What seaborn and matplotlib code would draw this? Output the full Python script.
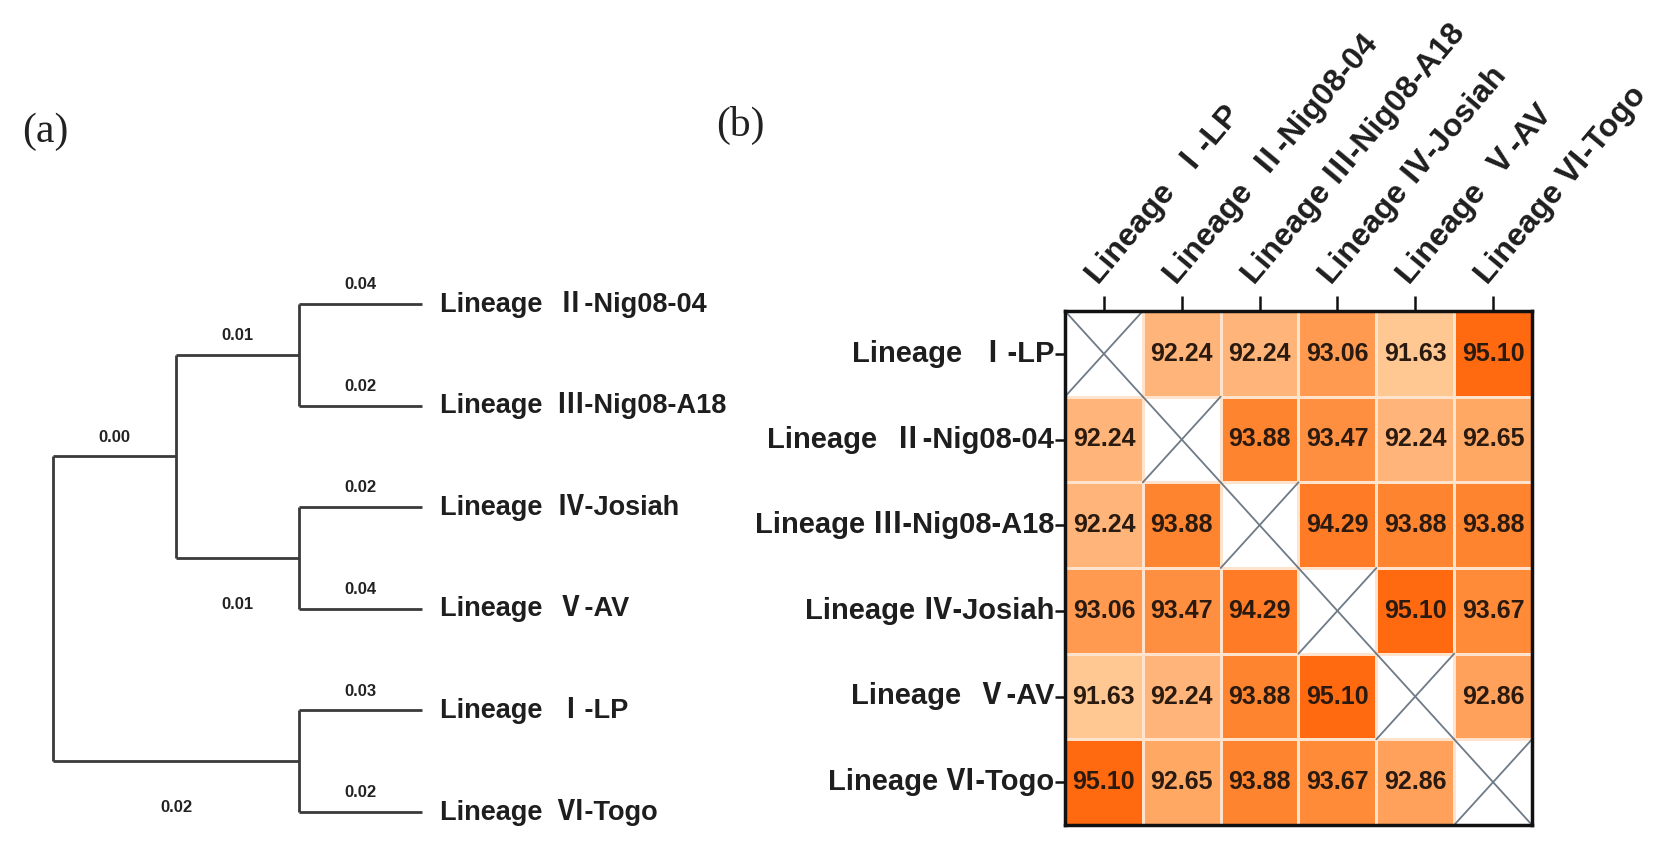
import numpy as np
import pandas as pd
import matplotlib
matplotlib.use("Agg")
import matplotlib.pyplot as plt
from matplotlib.colors import LinearSegmentedColormap
import seaborn as sns

# ---------------- data ----------------
lineages = ["Lineage  Ⅰ-LP", "Lineage  Ⅱ-Nig08-04", "Lineage Ⅲ-Nig08-A18",
            "Lineage Ⅳ-Josiah", "Lineage  Ⅴ-AV", "Lineage Ⅵ-Togo"]
row_I = [np.nan, 92.24, 92.24, 93.06, 91.63, 95.10]
row_II = [92.24, np.nan, 93.88, 93.47, 92.24, 92.65]
row_III = [92.24, 93.88, np.nan, 94.29, 93.88, 93.88]
row_IV = [93.06, 93.47, 94.29, np.nan, 95.10, 93.67]
row_V = [91.63, 92.24, 93.88, 95.10, np.nan, 92.86]
row_VI = [95.10, 92.65, 93.88, 93.67, 92.86, np.nan]

# tree: nested tuples of leaf names, branch-length labels per node
tree = ((("Lineage  Ⅱ-Nig08-04", "Lineage  Ⅲ-Nig08-A18"),
         ("Lineage  Ⅳ-Josiah", "Lineage  Ⅴ-AV")),
        ("Lineage  Ⅰ-LP", "Lineage  Ⅵ-Togo"))
branch_labels = {
    "Lineage  Ⅱ-Nig08-04": "0.04", "Lineage  Ⅲ-Nig08-A18": "0.02",
    "Lineage  Ⅳ-Josiah": "0.02", "Lineage  Ⅴ-AV": "0.04",
    "Lineage  Ⅰ-LP": "0.03", "Lineage  Ⅵ-Togo": "0.02",
    "A": "0.01", "B": "0.01", "C": "0.00", "D": "0.02",
}
node_names = {tree[0][0]: "A", tree[0][1]: "B", tree[0]: "C", tree[1]: "D"}

# ---------------- style ----------------
sns.set_theme(style="white")
plt.rcParams["font.family"] = ["Liberation Sans", "Noto Sans CJK SC", "DejaVu Sans"]
plt.rcParams["font.weight"] = "bold"

fig = plt.figure(figsize=(16.56, 8.57), dpi=100)
W, H = 1656, 857

def px_axes(x0, y0, x1, y1):
    return fig.add_axes([x0 / W, 1 - y1 / H, (x1 - x0) / W, (y1 - y0) / H])

# ---------------- (a) dendrogram ----------------
axd = px_axes(53, 304, 422, 812)
axd.set_xlim(0, 3)
axd.set_ylim(5, 0)
axd.axis("off")

leaf_order = []
def collect(n):
    if isinstance(n, str):
        leaf_order.append(n)
    else:
        for c in n:
            collect(c)
collect(tree)

def height(n):
    return 0 if isinstance(n, str) else 1 + max(height(c) for c in n)

maxh = height(tree)
line_kw = dict(color="#3a3a3a", lw=2.0, solid_capstyle="butt", clip_on=False)

def draw(n):
    """returns (x, y) of node n"""
    if isinstance(n, str):
        return maxh, leaf_order.index(n)
    x = maxh - height(n)
    pts = [draw(c) for c in n]
    ys = [p[1] for p in pts]
    axd.plot([x, x], [min(ys), max(ys)], **line_kw)
    for i, (c, (cx, cy)) in enumerate(zip(n, pts)):
        axd.plot([x, cx], [cy, cy], **line_kw)
        name = c if isinstance(c, str) else node_names[c]
        lab = branch_labels[name]
        dy = -0.19 if (isinstance(c, str) or i == 0) else 0.46
        axd.text((x + cx) / 2, cy + dy, lab, ha="center", va="center",
                 fontsize=12, fontweight="bold", color="#222222")
    return x, float(np.mean(ys))

draw(tree)
for i, name in enumerate(leaf_order):
    axd.text(maxh + 0.15, i, name, ha="left", va="center", fontsize=19.5,
             fontweight="bold", color="#1e1e1e", clip_on=False)

# ---------------- (b) heatmap ----------------
mat = pd.DataFrame([row_I, row_II, row_III, row_IV, row_V, row_VI],
                   index=lineages, columns=lineages)
mask = mat.isna()
cmap = LinearSegmentedColormap.from_list(
    "orng", [(0.0, "#FFC893"), (0.18, "#FFB578"), (0.41, "#FF9A50"),
             (0.65, "#FF8430"), (1.0, "#FF6A10")])

axh = px_axes(1065, 311, 1532, 825)
sns.heatmap(mat, ax=axh, mask=mask, cmap=cmap, vmin=91.63, vmax=95.10,
            annot=True, fmt=".2f", cbar=False, linewidths=0.8,
            linecolor="#ffe3cc",
            annot_kws=dict(fontsize=18, fontweight="bold", color="#2a1a10"))

# crosses on empty (diagonal) cells
for r in range(mat.shape[0]):
    for c in range(mat.shape[1]):
        if mask.iat[r, c]:
            axh.plot([c, c + 1], [r, r + 1], color="#6e7a86", lw=1.3)
            axh.plot([c, c + 1], [r + 1, r], color="#6e7a86", lw=1.3)

for s in axh.spines.values():
    s.set_visible(True)
    s.set_linewidth(2.5)
    s.set_color("#111111")

axh.xaxis.tick_top()
axh.set_xticks(np.arange(len(lineages)) + 0.5)
axh.set_xticklabels(lineages, rotation=50, ha="left", va="bottom",
                    rotation_mode="anchor", fontsize=23, fontweight="bold",
                    color="#1e1e1e")
axh.set_yticks(np.arange(len(lineages)) + 0.5)
axh.set_yticklabels(lineages, rotation=0, fontsize=21, fontweight="bold",
                    color="#1e1e1e")
axh.tick_params(axis="x", top=True, bottom=False, length=11, width=1.8,
                color="#111111", pad=4)
axh.tick_params(axis="y", left=True, length=7, width=1.8, color="#111111", pad=1)
axh.set_xlabel("")
axh.set_ylabel("")

# ---------------- panel letters ----------------
fig.text(22 / W, 1 - 132 / H, "(a)", fontsize=30, family="Liberation Serif",
         fontweight="normal", ha="left", va="center", color="#222222")
fig.text(716 / W, 1 - 125 / H, "(b)", fontsize=30, family="Liberation Serif",
         fontweight="normal", ha="left", va="center", color="#222222")

fig.savefig("out.png", dpi=100)
